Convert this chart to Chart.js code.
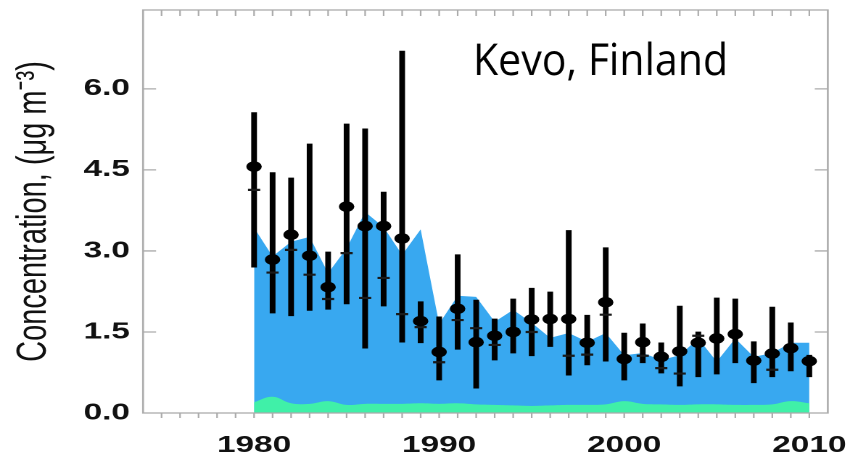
<!DOCTYPE html>
<html><head><meta charset="utf-8">
<script src="https://cdn.jsdelivr.net/npm/chart.js@4/dist/chart.umd.min.js"></script>
<style>
html,body{margin:0;padding:0;background:#fff;overflow:hidden;}
#wrap{width:586px;height:456px;transform:scaleX(1.45051);transform-origin:0 0;}
</style></head><body>
<div id="wrap"><canvas id="c" style="width:586px;height:456px"></canvas></div>
<script>
const years = [1980,1981,1982,1983,1984,1985,1986,1987,1988,1989,1990,1991,1992,1993,1994,1995,1996,1997,1998,1999,2000,2001,2002,2003,2004,2005,2006,2007,2008,2009,2010];
const meanValues = [4.56,2.84,3.30,2.91,2.33,3.82,3.46,3.46,3.23,1.70,1.13,1.93,1.31,1.43,1.50,1.73,1.74,1.74,1.30,2.05,1.00,1.31,1.04,1.14,1.30,1.38,1.46,0.97,1.10,1.20,0.96];
const medianValues = [4.13,2.60,3.02,2.56,2.11,2.96,2.13,2.50,1.83,1.59,0.94,1.72,1.57,1.26,1.55,1.50,1.70,1.06,1.08,1.82,0.99,1.06,0.83,0.73,1.43,1.36,1.46,0.97,0.80,1.19,0.96];
const highValues = [5.56,4.45,4.35,4.98,2.98,5.35,5.26,4.09,6.70,2.06,1.78,2.93,2.09,1.74,2.11,2.31,2.24,3.38,1.81,3.06,1.48,1.65,1.30,1.98,1.50,2.13,2.11,1.32,1.96,1.67,1.07];
const lowValues = [2.70,1.85,1.80,1.90,1.92,2.02,1.20,1.98,1.31,1.30,0.61,1.18,0.46,0.98,1.11,1.06,1.23,0.70,0.89,0.96,0.61,0.93,0.74,0.50,0.67,0.72,0.93,0.56,0.67,0.78,0.67];
const blueTop = [3.43,2.90,3.17,3.26,2.59,3.05,3.72,3.44,2.93,3.40,1.65,2.17,2.15,1.69,1.91,1.67,1.39,1.48,1.32,1.48,1.07,1.11,0.98,1.07,1.38,0.95,1.38,1.04,1.11,1.30,1.30];
const greenTop = [0.20,0.30,0.18,0.17,0.22,0.15,0.17,0.17,0.17,0.18,0.17,0.18,0.16,0.15,0.14,0.13,0.14,0.15,0.15,0.16,0.22,0.17,0.16,0.15,0.16,0.16,0.15,0.15,0.16,0.22,0.18];
const xTickLabels = [1980,1990,2000,2010];
const yTickLabels = [0.0,1.5,3.0,4.5,6.0];
const annotationText = 'Kevo, Finland';
const yTitle = 'Concentration, (\u03bcg m\u207b\u00b3)';

const S = 850/586;
const BLUE = '#38a8f0';
const GREEN = '#40f0a8';
const FRAME = '#ababab';

const framePlugin = {
  id: 'frame',
  afterDraw(chart) {
    const {ctx, chartArea: a, scales: {x, y}} = chart;
    ctx.save();
    ctx.strokeStyle = FRAME;
    ctx.lineWidth = 1.3;
    ctx.strokeRect(a.left, a.top, a.right - a.left, a.bottom - a.top);
    ctx.lineWidth = 1.1;
    ctx.beginPath();
    for (let yr = x.min + 1; yr < x.max; yr++) {
      const px = x.getPixelForValue(yr);
      ctx.moveTo(px, a.bottom); ctx.lineTo(px, a.bottom + 5);
      ctx.moveTo(px, a.top); ctx.lineTo(px, a.top + 6);
    }
    ctx.stroke();
    ctx.lineWidth = 1.3;
    ctx.beginPath();
    yTickLabels.forEach(v => {
      if (v <= y.min) return;
      const py = y.getPixelForValue(v);
      ctx.moveTo(a.left, py); ctx.lineTo(a.left + 9, py);
      ctx.moveTo(a.right, py); ctx.lineTo(a.right - 9, py);
    });
    ctx.stroke();
    // annotation text (drawn un-stretched)
    ctx.fillStyle = '#000';
    ctx.textBaseline = 'alphabetic';
    ctx.font = '44px "Open Sans"';
    const w = ctx.measureText(annotationText).width;
    ctx.translate(473 / S, 75);
    ctx.scale((255 / w) / S, 1);
    ctx.fillText(annotationText, 0, 0);
    ctx.restore();
  }
};

const tickFont = {family: '"Liberation Sans", Arial, sans-serif', weight: 'bold', size: 23};

new Chart(document.getElementById('c'), {
  type: 'scatter',
  data: {
    datasets: [
      {type: 'line', data: years.map((v, i) => ({x: v, y: blueTop[i]})), fill: 'origin', backgroundColor: BLUE, borderWidth: 0, pointRadius: 0, tension: 0, order: 5},
      {type: 'line', data: years.map((v, i) => ({x: v, y: greenTop[i]})), fill: 'origin', backgroundColor: GREEN, borderWidth: 0, pointRadius: 0, tension: 0.4, order: 4},
      {type: 'bar', data: years.map((v, i) => ({x: v, y: [lowValues[i], highValues[i]]})), backgroundColor: '#000', borderWidth: 0, barThickness: 3.3, order: 3},
      {type: 'scatter', data: years.map((v, i) => ({x: v, y: medianValues[i]})), pointStyle: 'line', pointRadius: 4.2, borderColor: '#1a1a1a', borderWidth: 2.2, order: 2},
      {type: 'scatter', data: years.map((v, i) => ({x: v, y: meanValues[i]})), pointStyle: 'circle', pointRadius: 5.3, backgroundColor: '#000', borderWidth: 0, order: 1}
    ]
  },
  options: {
    responsive: false,
    animation: false,
    devicePixelRatio: 2,
    layout: {padding: {top: 10, right: 15.3, left: 0, bottom: 0}},
    plugins: {legend: {display: false}, tooltip: {enabled: false}},
    scales: {
      x: {
        type: 'linear', min: 1974, max: 2011, position: 'bottom', offset: false,
        afterBuildTicks: s => { s.ticks = xTickLabels.map(v => ({value: v})); },
        ticks: {font: tickFont, color: '#111', padding: 19, maxRotation: 0, autoSkip: false, callback: v => String(v)},
        grid: {display: false, drawTicks: false, offset: false}, border: {display: false},
        afterFit: s => { s.height = 43; s.paddingLeft = 0; s.paddingRight = 0; }
      },
      y: {
        type: 'linear', min: 0, max: 7.46,
        afterBuildTicks: s => { s.ticks = yTickLabels.map(v => ({value: v})); },
        ticks: {font: tickFont, color: '#111', padding: 9, callback: v => Number(v).toFixed(1)},
        title: {display: true, text: yTitle, color: '#111', font: {family: '"Liberation Sans", Arial, sans-serif', size: 29}, padding: {top: 6, bottom: 0}},
        grid: {display: false, drawTicks: false}, border: {display: false},
        afterFit: s => { s.width = 98.6; s.paddingTop = 0; s.paddingBottom = 0; }
      }
    }
  },
  plugins: [framePlugin]
});
</script>
</body></html>
